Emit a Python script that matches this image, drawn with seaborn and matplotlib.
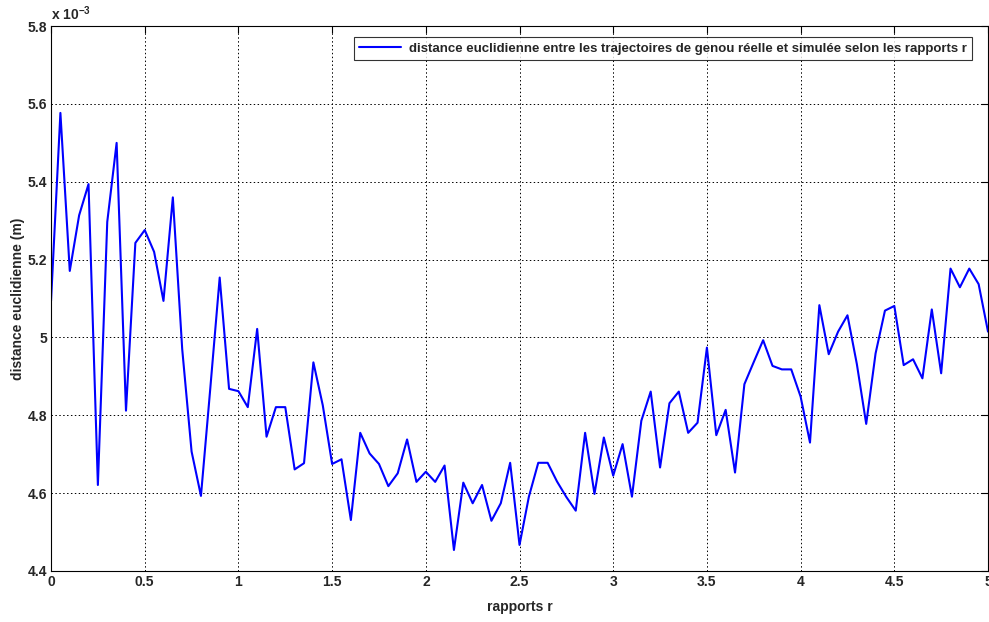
import numpy as np
import pandas as pd
import matplotlib
matplotlib.use("Agg")
import matplotlib.pyplot as plt
import seaborn as sns

# Ratio r sampled every 0.05 from 0 to 5
ratios = [round(0.05 * i, 2) for i in range(101)]

# Euclidean distance between measured and simulated knee trajectories (x 1e-3 m)
distance_mm = [
    5.094, 5.577, 5.171, 5.314, 5.394, 4.621, 5.297, 5.500, 4.812, 5.243,
    5.276, 5.220, 5.094, 5.360, 4.970, 4.707, 4.593, 4.870, 5.154, 4.868,
    4.862, 4.821, 5.022, 4.745, 4.821, 4.821, 4.661, 4.677, 4.936, 4.826,
    4.675, 4.687, 4.531, 4.755, 4.702, 4.675, 4.618, 4.651, 4.738, 4.629,
    4.655, 4.629, 4.671, 4.454, 4.627, 4.574, 4.621, 4.529, 4.574, 4.678,
    4.467, 4.591, 4.678, 4.678, 4.630, 4.590, 4.555, 4.755, 4.598, 4.743,
    4.645, 4.726, 4.591, 4.786, 4.861, 4.666, 4.831, 4.861, 4.755, 4.781,
    4.974, 4.749, 4.814, 4.653, 4.880, 4.937, 4.993, 4.927, 4.918, 4.918,
    4.848, 4.730, 5.083, 4.957, 5.015, 5.057, 4.932, 4.778, 4.959, 5.069,
    5.081, 4.929, 4.944, 4.895, 5.072, 4.908, 5.177, 5.129, 5.177, 5.137,
    5.015,
]

x_ticks = [0, 0.5, 1, 1.5, 2, 2.5, 3, 3.5, 4, 4.5, 5]
x_tick_labels = ["0", "0.5", "1", "1.5", "2", "2.5", "3", "3.5", "4", "4.5", "5"]
y_ticks = [4.4, 4.6, 4.8, 5.0, 5.2, 5.4, 5.6, 5.8]
y_tick_labels = ["4.4", "4.6", "4.8", "5", "5.2", "5.4", "5.6", "5.8"]

legend_label = ("distance euclidienne entre les trajectoires de genou "
                "réelle et simulée selon les rapports r")

df = pd.DataFrame({"r": ratios, "d": distance_mm})

sns.set_style("white")
plt.rcParams["font.family"] = ["Liberation Sans Narrow", "Liberation Sans", "DejaVu Sans"]
plt.rcParams["font.weight"] = "bold"

fig = plt.figure(figsize=(9.89, 6.22), dpi=100)
ax = fig.add_axes([0.0516, 0.082, 0.9474, 0.876])

sns.lineplot(data=df, x="r", y="d", ax=ax, color="#0000ff", linewidth=1.5,
             label=legend_label)

ax.set_xlim(0, 5)
ax.set_ylim(4.4, 5.8)
ax.set_xticks(x_ticks)
ax.set_xticklabels(x_tick_labels, fontsize=10, fontweight="bold")
ax.set_yticks(y_ticks)
ax.set_yticklabels(y_tick_labels, fontsize=10, fontweight="bold")

ax.grid(True, color="black", linestyle=(0, (1.5, 2.5)), linewidth=0.7)
ax.tick_params(direction="in", length=5, width=0.8, top=True, right=True,
               color="black", pad=3)
for s in ax.spines.values():
    s.set_color("black")
    s.set_linewidth(0.8)

ax.set_xlabel("rapports r", fontsize=10, fontweight="bold")
ax.set_ylabel("distance euclidienne (m)", fontsize=10, fontweight="bold")
ax.xaxis.set_label_coords(0.5, -0.066)
ax.yaxis.set_label_coords(-0.035, 0.5)
ax.xaxis.label.set_va("center")
ax.yaxis.label.set_va("center")

ax.text(0.0, 1.006, r"x 10$^{\mathregular{-3}}$", transform=ax.transAxes,
        fontsize=10, fontweight="bold", ha="left", va="bottom")

leg = ax.legend(loc="upper right", bbox_to_anchor=(0.983, 0.98),
                borderaxespad=0, prop={"size": 9.5, "weight": "bold"},
                frameon=True, fancybox=False, handlelength=3.2,
                borderpad=0.4, handletextpad=0.6)
leg.get_frame().set_edgecolor("black")
leg.get_frame().set_linewidth(0.8)

fig.savefig("out.png", dpi=100)
